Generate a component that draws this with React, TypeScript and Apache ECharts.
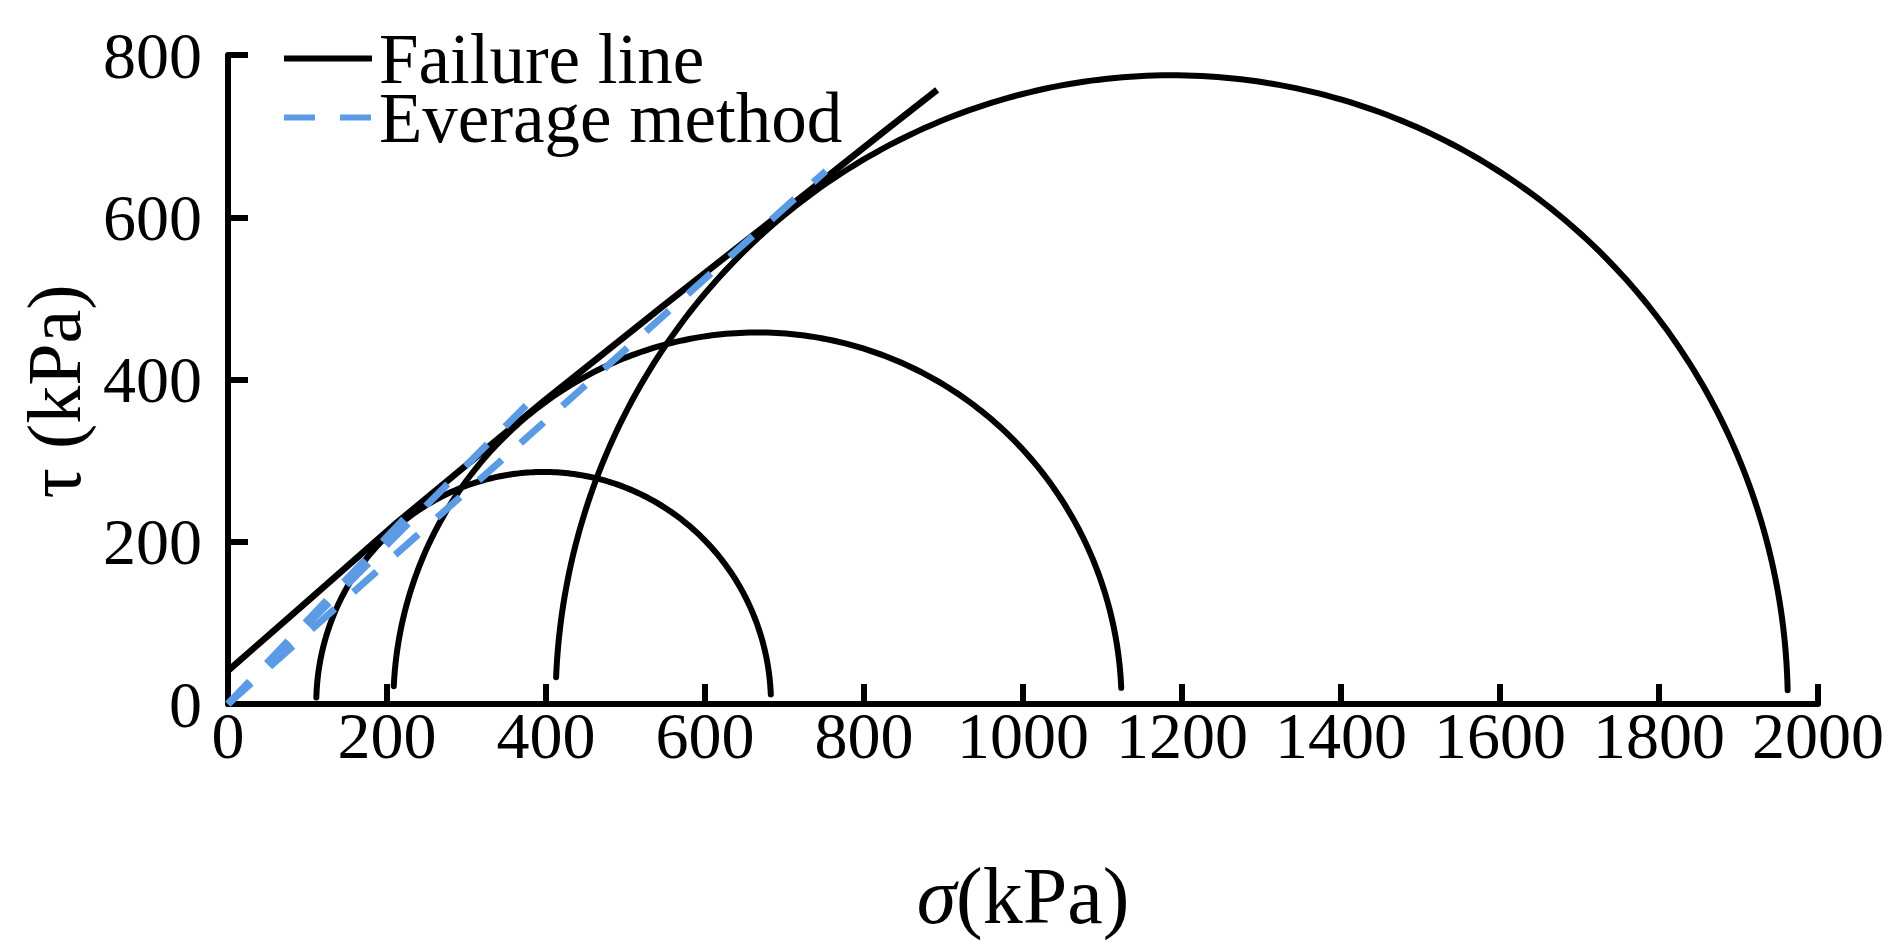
import React, { useEffect, useRef } from "react";
import * as echarts from "echarts";

// Axis ranges and ticks (kPa)
const xAxisRange = { min: 0, max: 2000, interval: 200 };
const yAxisRange = { min: 0, max: 800, interval: 200 };

// Mohr circles: minor / major principal stress (kPa)
const circleSigma3 = [111, 208, 412];
const circleSigma1 = [683, 1124, 1962];
// height (kPa) at which each drawn arc stops above the axis, right end / left end
const arcEndTauRight = [12, 20, 17];
const arcEndTauLeft = [8, 22, 33];

// Failure line
const failureSigma = [0, 91, 213, 398, 549, 697, 823, 892];
const failureTau = [41, 119, 224, 374, 492, 606, 704, 757];

// Everage method: three dashed lines from the origin, end points
const avgEndSigma = [225, 375, 752];
const avgEndTau = [232, 368, 657];

const FONT = "Liberation Serif";
const BLUE = "#5B9BE6";

export default function App() {
  const ref = useRef<HTMLDivElement>(null);

  useEffect(() => {
    if (!ref.current) return;
    const chart = echarts.init(ref.current, null, { renderer: "svg" });

    const circleData = circleSigma3.map((s3, i) => [
      s3,
      circleSigma1[i],
      arcEndTauRight[i],
      arcEndTauLeft[i],
    ]);

    const failureData = failureSigma.map((s, i) => [s, failureTau[i]]);

    const avgSeries = avgEndSigma.map((s, i) => ({
      name: "Everage method",
      type: "line",
      data: [
        [0, 0],
        [s, avgEndTau[i]],
      ],
      symbol: "none",
      z: 5,
      lineStyle: { color: BLUE, width: 7, type: [31, 25], cap: "butt" },
      itemStyle: { color: BLUE },
    }));

    const option: any = {
      animation: false,
      backgroundColor: "#fff",
      grid: { left: 228, top: 55, width: 1590, height: 649, containLabel: false },
      legend: {
        orient: "vertical",
        left: 276,
        top: 18,
        itemWidth: 88,
        itemHeight: 14,
        itemGap: -12,
        selectedMode: false,
        data: ["Failure line", "Everage method"],
        itemStyle: { opacity: 0 },
        lineStyle: { width: 6, type: "inherit" },
        textStyle: {
          fontFamily: FONT,
          fontSize: 71,
          color: "#000",
          lineHeight: 60,
          padding: [0, 0, 0, 2],
        },
      },
      xAxis: {
        type: "value",
        min: xAxisRange.min,
        max: xAxisRange.max,
        interval: xAxisRange.interval,
        name: "{i|σ}{n|(kPa)}",
        nameLocation: "middle",
        nameGap: 152,
        nameTextStyle: {
          rich: {
            i: { fontFamily: FONT, fontSize: 80, fontStyle: "italic", color: "#000" },
            n: { fontFamily: FONT, fontSize: 80, color: "#000" },
          },
        },
        axisLine: { show: true, lineStyle: { color: "#000", width: 6 } },
        axisTick: { show: true, inside: true, length: 20, lineStyle: { color: "#000", width: 6 } },
        axisLabel: {
          fontFamily: FONT,
          fontSize: 66,
          color: "#000",
          margin: -2,
          formatter: (v: number) => String(v),
        },
        splitLine: { show: false },
      },
      yAxis: {
        type: "value",
        min: yAxisRange.min,
        max: yAxisRange.max,
        interval: yAxisRange.interval,
        name: "τ (kPa)",
        nameLocation: "middle",
        nameGap: 136,
        nameTextStyle: {
          fontFamily: FONT,
          fontSize: 76,
          color: "#000",
          padding: [0, 24, 0, 0],
        },
        axisLine: { show: true, lineStyle: { color: "#000", width: 6 } },
        axisTick: { show: true, inside: true, length: 20, lineStyle: { color: "#000", width: 6 } },
        axisLabel: {
          fontFamily: FONT,
          fontSize: 66,
          color: "#000",
          margin: 26,
          padding: [0, 0, 8, 0],
          formatter: (v: number) => String(v),
        },
        splitLine: { show: false },
      },
      series: [
        {
          name: "Mohr circles",
          type: "custom",
          clip: false,
          silent: true,
          data: circleData,
          encode: { x: [0, 1], y: [2, 3] },
          renderItem: (_params: any, api: any) => {
            const s3 = api.value(0);
            const s1 = api.value(1);
            const tR = api.value(2);
            const tL = api.value(3);
            const c = (s1 + s3) / 2;
            const r = (s1 - s3) / 2;
            const a0 = Math.asin(tR / r);
            const a1 = Math.PI - Math.asin(tL / r);
            const pts: number[][] = [];
            const n = 240;
            for (let k = 0; k <= n; k++) {
              const a = a0 + ((a1 - a0) * k) / n;
              pts.push(api.coord([c + r * Math.cos(a), r * Math.sin(a)]));
            }
            return {
              type: "polyline",
              shape: { points: pts },
              style: { stroke: "#000", lineWidth: 6, fill: null, lineCap: "round" },
            };
          },
        },
        {
          name: "Failure line",
          type: "line",
          data: failureData,
          symbol: "none",
          z: 4,
          lineStyle: { color: "#000", width: 6.5 },
          itemStyle: { color: "#000" },
        },
        ...avgSeries,
      ],
    };

    chart.setOption(option);
    return () => chart.dispose();
  }, []);

  return (
    <div
      ref={ref}
      style={{ position: "absolute", left: 0, top: 0, width: 1897, height: 944, background: "#fff" }}
    />
  );
}
